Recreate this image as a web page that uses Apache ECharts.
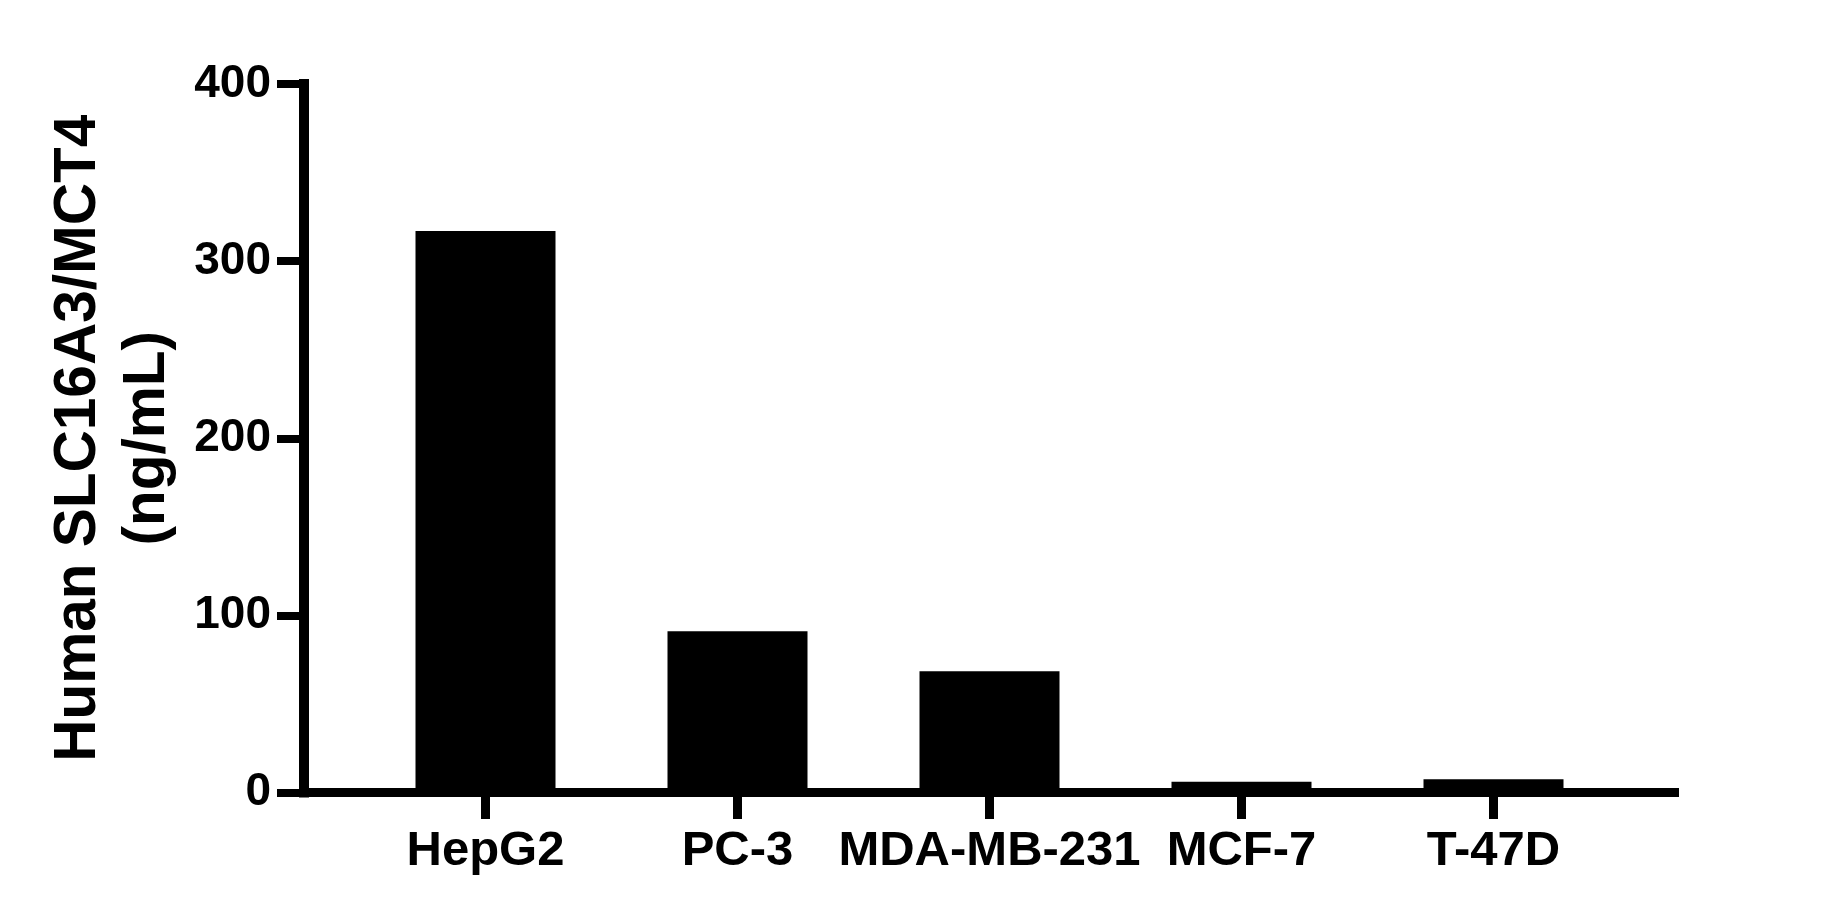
<!DOCTYPE html>
<html>
<head>
<meta charset="utf-8">
<title>Human SLC16A3/MCT4</title>
<script src="https://cdn.jsdelivr.net/npm/echarts@6/dist/echarts.min.js"></script>
<style>
  html, body { margin: 0; padding: 0; background: #fff; }
  #chart { width: 1827px; height: 923px; }
</style>
</head>
<body>
<div id="chart"></div>
<script>
// values
const cellLines = ['HepG2', 'PC-3', 'MDA-MB-231', 'MCF-7', 'T-47D']
const concentration = [317, 91, 68.5, 6, 7.5]
const yTicks = [0, 100, 200, 300, 400]
const yTitle = 'Human SLC16A3/MCT4\n(ng/mL)'

const font = '"Liberation Sans", Arial, sans-serif'
const chart = echarts.init(document.getElementById('chart'))

chart.setOption({
  backgroundColor: '#fff',
  animation: false,
  grid: [{
    // frame: axis lines
    left: 304,
    right: 148,
    top: 84,
    bottom: 130.5
  }, {
    // bars sit inside, away from the frame ends
    left: 359.5,
    right: 207.5,
    top: 84,
    bottom: 130.5
  }],
  xAxis: [{
    type: 'value',
    gridIndex: 0,
    min: 0,
    max: 1,
    axisLine: { show: true, lineStyle: { color: '#000', width: 9, cap: 'butt' } },
    axisTick: { show: false },
    axisLabel: { show: false },
    splitLine: { show: false }
  }, {
    type: 'category',
    gridIndex: 1,
    data: cellLines,
    axisLine: { show: false },
    axisTick: {
      show: true,
      alignWithLabel: true,
      length: 26.5,
      lineStyle: { color: '#000', width: 9, cap: 'butt' }
    },
    axisLabel: {
      interval: 0,
      margin: 34,
      color: '#000',
      fontSize: 49,
      fontWeight: 'bold',
      fontFamily: font
    }
  }],
  yAxis: [{
    type: 'value',
    gridIndex: 0,
    min: yTicks[0],
    max: yTicks[yTicks.length - 1],
    interval: 100,
    name: yTitle,
    nameLocation: 'middle',
    nameGap: 122,
    nameTextStyle: {
      color: '#000',
      fontSize: 58.5,
      fontWeight: 'bold',
      fontFamily: font,
      lineHeight: 69
    },
    axisLine: { show: true, lineStyle: { color: '#000', width: 10, cap: 'square' } },
    axisTick: { show: true, length: 27, lineStyle: { color: '#000', width: 8, cap: 'butt' } },
    axisLabel: {
      margin: 33,
      color: '#000',
      fontSize: 46,
      fontWeight: 'bold',
      fontFamily: font
    },
    splitLine: { show: false }
  }, {
    type: 'value',
    gridIndex: 1,
    min: yTicks[0],
    max: yTicks[yTicks.length - 1],
    show: false
  }],
  series: [{
    type: 'bar',
    xAxisIndex: 1,
    yAxisIndex: 1,
    data: concentration,
    barWidth: 140,
    itemStyle: { color: '#000' }
  }]
})
</script>
</body>
</html>
